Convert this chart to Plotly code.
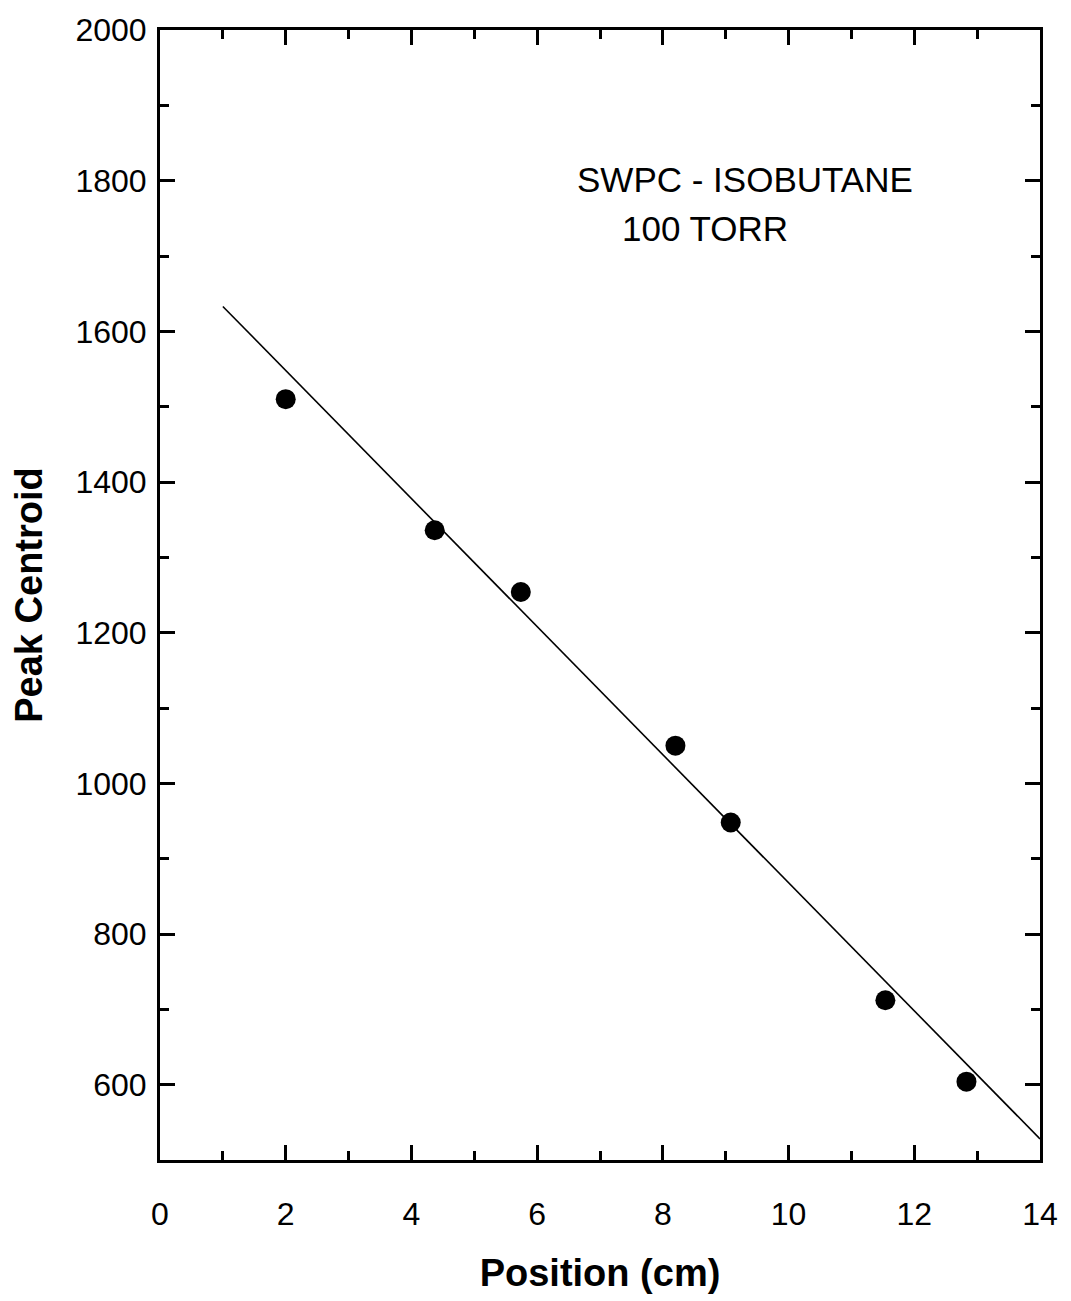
import plotly.graph_objects as go

position_cm = [2.0, 4.37, 5.74, 8.2, 9.08, 11.54, 12.83]
peak_centroid = [1510, 1336, 1254, 1050, 948, 712, 604]

fit_x = [1.0, 14.0]
fit_y = [1633, 528]

x_tickvals = [0, 2, 4, 6, 8, 10, 12, 14]
y_tickvals = [600, 800, 1000, 1200, 1400, 1600, 1800, 2000]

font_family = "Liberation Sans, Arial, sans-serif"

fig = go.Figure()
fig.add_trace(go.Scatter(x=fit_x, y=fit_y, mode="lines",
                         line=dict(color="black", width=1.6), showlegend=False))
fig.add_trace(go.Scatter(x=position_cm, y=peak_centroid, mode="markers",
                         marker=dict(color="black", size=20), showlegend=False))

fig.add_annotation(x=9.3, y=1801, text="SWPC - ISOBUTANE", showarrow=False,
                   font=dict(size=35, color="black", family=font_family))
fig.add_annotation(x=8.67, y=1737, text="100 TORR", showarrow=False,
                   font=dict(size=35, color="black", family=font_family))

axis_common = dict(showgrid=False, zeroline=False, showline=True, linecolor="black",
                   linewidth=3, mirror="ticks", ticks="inside", ticklen=15,
                   tickwidth=2.5, tickcolor="black",
                   tickfont=dict(size=32, color="black", family=font_family))

fig.update_xaxes(range=[0, 14], tickvals=x_tickvals, ticklabelstandoff=24,
                 minor=dict(ticks="inside", ticklen=9, tickwidth=2.5, dtick=1, tickcolor="black"),
                 title=dict(text="<b>Position (cm)</b>", standoff=28,
                            font=dict(size=38, color="black", family=font_family)),
                 **axis_common)
fig.update_yaxes(range=[500, 2000], tickvals=y_tickvals, ticklabelstandoff=4,
                 minor=dict(ticks="inside", ticklen=9, tickwidth=2.5, dtick=100, tickcolor="black"),
                 title=dict(text="<b>Peak Centroid</b>", standoff=22,
                            font=dict(size=38, color="black", family=font_family)),
                 **axis_common)

fig.update_layout(width=1071, height=1301, plot_bgcolor="white", paper_bgcolor="white",
                  margin=dict(l=160, r=31, t=30, b=141),
                  font=dict(family=font_family, color="black"))

fig.write_html("out.html")
